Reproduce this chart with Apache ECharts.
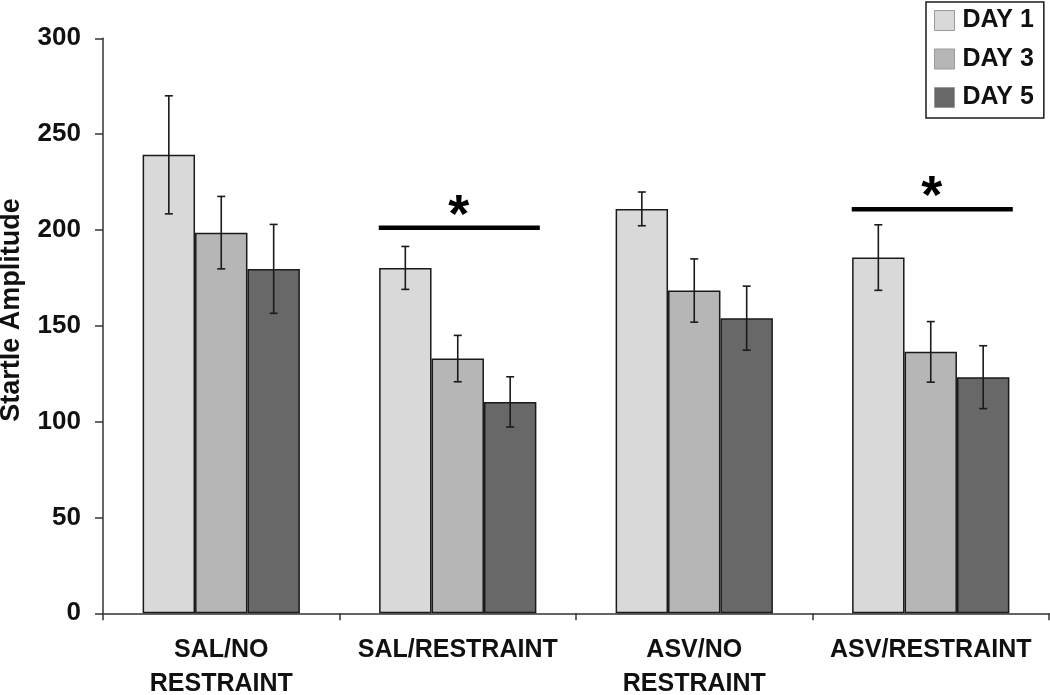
<!DOCTYPE html>
<html>
<head>
<meta charset="utf-8">
<script src="https://cdn.jsdelivr.net/npm/echarts@6/dist/echarts.min.js"></script>
<style>
html,body{margin:0;padding:0;background:#fff;}
#chart{width:1050px;height:695px;}
</style>
</head>
<body>
<div id="chart"></div>
<script>
// ---- data ----
var categories = ['SAL/NO\nRESTRAINT', 'SAL/RESTRAINT', 'ASV/NO\nRESTRAINT', 'ASV/RESTRAINT'];
var seriesNames = ['DAY 1', 'DAY 3', 'DAY 5'];
var day1 = [239.2, 180.2, 211.0, 185.6];
var day3 = [198.6, 132.9, 168.4, 136.4];
var day5 = [179.7, 110.3, 154.0, 123.2];
var sem1 = [30.8, 11.2, 8.8, 17.1];
var sem3 = [18.9, 12.1, 16.5, 15.8];
var sem5 = [23.2, 13.1, 16.7, 16.4];
var sigGroups = [1, 3];
var sigLevels = [201.1, 210.8];
var yTicks = [0, 50, 100, 150, 200, 250, 300];

// ---- styling ----
var colors = ['#d9d9d9', '#b6b6b6', '#686868'];
var FONT = '"Liberation Sans", Arial, Helvetica, sans-serif';
var GAP = 0.335;

var chart = echarts.init(document.getElementById('chart'), null, {renderer: 'canvas'});

function errSeries(vals, sems, idx) {
  var data = vals.map(function (v, i) { return [i, v - sems[i], v + sems[i]]; });
  return {
    type: 'custom',
    name: seriesNames[idx] + ' err',
    z: 5,
    silent: true,
    data: data,
    encode: {x: 0, y: [1, 2]},
    renderItem: function (params, api) {
      var ci = api.value(0);
      var lo = api.coord([ci, api.value(1)]);
      var hi = api.coord([ci, api.value(2)]);
      var band = api.size([1, 0])[0];
      var bw = band * (1 - GAP) / 3;
      var x = lo[0] + (idx - 1) * bw;
      var cap = 4;
      var st = {stroke: '#1a1a1a', lineWidth: 1.6};
      return {
        type: 'group',
        children: [
          {type: 'line', shape: {x1: x, y1: lo[1], x2: x, y2: hi[1]}, style: st},
          {type: 'line', shape: {x1: x - cap, y1: lo[1], x2: x + cap, y2: lo[1]}, style: st},
          {type: 'line', shape: {x1: x - cap, y1: hi[1], x2: x + cap, y2: hi[1]}, style: st}
        ]
      };
    }
  };
}

function barSeries(vals, idx) {
  return {
    type: 'bar',
    name: seriesNames[idx],
    data: vals,
    barGap: '0%',
    barCategoryGap: (GAP * 100) + '%',
    itemStyle: {color: colors[idx], borderColor: '#1a1a1a', borderWidth: 1.5},
    emphasis: {disabled: true}
  };
}

var sigData = sigGroups.map(function (g, i) { return [g, sigLevels[i]]; });

var option = {
  animation: false,
  backgroundColor: '#ffffff',
  grid: {left: 103, right: 1, top: 38.3, bottom: 81.7, containLabel: false, outerBoundsMode: 'none'},
  legend: {
    data: seriesNames,
    orient: 'vertical',
    left: 926,
    top: 2,
    padding: [6, 10, 8, 8],
    itemWidth: 20,
    itemHeight: 20,
    itemGap: 13.5,
    borderColor: '#1a1a1a',
    borderWidth: 1.5,
    icon: 'rect',
    itemStyle: {borderColor: '#9a9a9a', borderWidth: 1},
    textStyle: {fontFamily: FONT, fontWeight: 'bold', fontSize: 25, color: '#111', padding: [0, 0, 0, 3]}
  },
  xAxis: {
    type: 'category',
    data: categories,
    axisLine: {lineStyle: {color: '#333', width: 1.5}},
    axisTick: {show: true, length: 7, lineStyle: {color: '#333', width: 1.5}},
    axisLabel: {fontFamily: FONT, fontWeight: 'bold', fontSize: 25, color: '#111', lineHeight: 34, margin: 20, interval: 0}
  },
  yAxis: {
    type: 'value',
    min: 0, max: 300, interval: 50,
    axisLine: {show: true, lineStyle: {color: '#333', width: 1.5}},
    axisTick: {show: true, length: 8, lineStyle: {color: '#333', width: 1.5}},
    splitLine: {show: false},
    axisLabel: {fontFamily: FONT, fontWeight: 'bold', fontSize: 26, color: '#111', margin: 22}
  },
  graphic: [{
    type: 'text',
    x: 12, y: 310,
    rotation: Math.PI / 2,
    style: {text: 'Startle Amplitude', font: 'bold 27px ' + FONT, fill: '#111', textAlign: 'center', textVerticalAlign: 'middle'}
  }],
  series: [
    barSeries(day1, 0), barSeries(day3, 1), barSeries(day5, 2),
    errSeries(day1, sem1, 0), errSeries(day3, sem3, 1), errSeries(day5, sem5, 2),
    {
      type: 'custom',
      name: 'sig',
      z: 6,
      silent: true,
      data: sigData,
      encode: {x: 0, y: 1},
      renderItem: function (params, api) {
        var p = api.coord([api.value(0), api.value(1)]);
        var band = api.size([1, 0])[0];
        return {
          type: 'group',
          children: [
            {type: 'line', shape: {x1: p[0] - band * 0.334, y1: p[1], x2: p[0] + band * 0.347, y2: p[1]},
             style: {stroke: '#000', lineWidth: 4.5}},
            {type: 'text', x: p[0] + 1, y: p[1] + 16,
             style: {text: '*', font: 'bold 54px ' + FONT, fill: '#000', textAlign: 'center', textVerticalAlign: 'bottom'}}
          ]
        };
      }
    }
  ]
};
chart.setOption(option);
</script>
</body>
</html>
